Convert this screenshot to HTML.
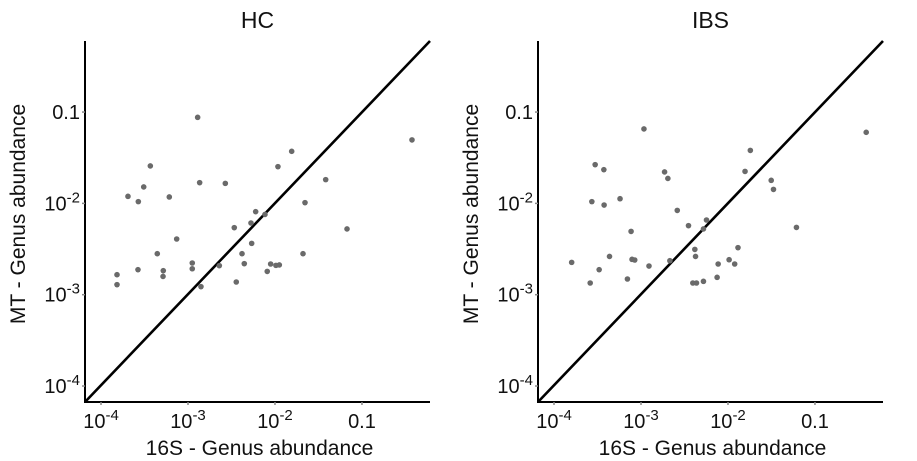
<!DOCTYPE html>
<html><head><meta charset="utf-8">
<style>
html,body{margin:0;padding:0;background:#fff;}
svg{display:block;font-family:"Liberation Sans",Arial,sans-serif;}
</style></head>
<body>
<svg id="chart" width="917" height="461" viewBox="0 0 917 461" xmlns="http://www.w3.org/2000/svg"></svg>
<script>
// log10 values of genus abundance
const panelTitles = ["HC", "IBS"];
const xTickExps = [-4, -3, -2, -1];
const yTickExps = [-4, -3, -2, -1];
const hcX16S = [-2.889,-0.425,-1.808,-3.433,-1.966,-3.509,-2.866,-2.571,-3.690,-3.571,-3.215,-1.417,-1.655,-2.222,-2.115,-2.276,-2.468,-2.268,-3.130,-1.172,-3.353,-2.379,-1.678,-2.951,-2.353,-2.951,-2.640,-2.050,-1.989,-1.950,-2.089,-3.575,-3.284,-3.287,-3.816,-3.816,-2.851,-2.445];
const hcYMT = [-1.058,-1.305,-1.430,-1.590,-1.598,-1.820,-1.773,-1.781,-1.923,-1.981,-1.930,-1.740,-1.992,-2.091,-2.121,-2.215,-2.266,-2.438,-2.390,-2.280,-2.551,-2.551,-2.551,-2.653,-2.660,-2.716,-2.682,-2.664,-2.679,-2.674,-2.745,-2.726,-2.737,-2.800,-2.781,-2.890,-2.912,-2.861];
const ibsX16S = [-2.966,-0.411,-1.743,-3.527,-3.427,-2.729,-2.691,-1.804,-1.503,-1.477,-3.565,-3.424,-3.241,-2.583,-2.454,-2.247,-2.282,-3.114,-1.213,-1.885,-2.381,-2.373,-3.362,-3.103,-3.072,-2.668,-1.987,-1.923,-3.797,-2.908,-2.113,-3.481,-3.156,-3.584,-2.404,-2.362,-2.282,-2.125];
const ibsYMT = [-1.185,-1.222,-1.420,-1.576,-1.631,-1.656,-1.727,-1.650,-1.748,-1.847,-1.981,-2.018,-1.949,-2.077,-2.244,-2.182,-2.280,-2.307,-2.263,-2.485,-2.504,-2.581,-2.581,-2.613,-2.620,-2.628,-2.617,-2.664,-2.646,-2.686,-2.664,-2.726,-2.828,-2.872,-2.872,-2.872,-2.854,-2.810];

const NS = "http://www.w3.org/2000/svg";
const svg = document.getElementById("chart");
function mk(tag, attrs, parent){
  const e = document.createElementNS(NS, tag);
  for (const k in attrs) e.setAttribute(k, attrs[k]);
  (parent||svg).appendChild(e);
  return e;
}
const panels = [
  {left:85, right:430, title:panelTitles[0], xs:hcX16S, ys:hcYMT, key:"hc"},
  {left:538, right:883, title:panelTitles[1], xs:ibsX16S, ys:ibsYMT, key:"ibs"}
];
const plotTop = 41, plotBottom = 402;
const xMin = -4.184, xMax = -0.218, yMin = -4.175, yMax = -0.222;

function tickText(g, exp, x, y, anchor){
  const t = mk("text", {x:x, y:y, "font-size":20, fill:"#111", "text-anchor":anchor}, g);
  if (exp === -1) { t.textContent = "0.1"; }
  else {
    const a = document.createElementNS(NS, "tspan"); a.textContent = "10"; t.appendChild(a);
    const b = document.createElementNS(NS, "tspan"); b.textContent = String(exp);
    b.setAttribute("dy", "-8"); b.setAttribute("font-size", "15"); t.appendChild(b);
  }
  return t;
}

panels.forEach(p => {
  const g = mk("g", {});
  
  
  const sx = v => p.left + (v - xMin) / (xMax - xMin) * (p.right - p.left);
  const sy = v => plotBottom - (v - yMin) / (yMax - yMin) * (plotBottom - plotTop);
  const cx = (p.left + p.right) / 2;

  const title = mk("text", {x:cx, y:28, "font-size":23, "text-anchor":"middle", fill:"#111"}, g);
  title.textContent = p.title;
  
  

  const diag = mk("line", {x1:p.left, y1:plotBottom, x2:p.right, y2:plotTop, stroke:"#000", "stroke-width":2.6}, g);
  
  

  const axes = mk("path", {d:`M${p.left},${plotTop}V${plotBottom}H${p.right}`, fill:"none", stroke:"#000", "stroke-width":2}, g);
  
  

  xTickExps.forEach(e => {
    const x = sx(e);
    const tk = mk("line", {x1:x, y1:plotBottom, x2:x, y2:plotBottom+3, stroke:"#888", "stroke-width":1.5}, g);
    
    
    const t = tickText(g, e, x, 428, "middle");
    
    
  });
  yTickExps.forEach(e => {
    const y = sy(e);
    const tk = mk("line", {x1:p.left-3, y1:y, x2:p.left, y2:y, stroke:"#888", "stroke-width":1.5}, g);
    
    
    const t = tickText(g, e, p.left-5, y+7, "end");
    
    
  });

  const xt = mk("text", {x:cx+2, y:455, "font-size":21, "text-anchor":"middle", fill:"#111"}, g);
  xt.textContent = "16S - Genus abundance";
  
  

  const yx = p.left - 60, yy = 214;
  const yt = mk("text", {x:yx, y:yy, "font-size":21, "text-anchor":"middle", fill:"#111", transform:`rotate(-90 ${yx} ${yy})`}, g);
  yt.textContent = "MT - Genus abundance";
  
  

  p.xs.forEach((v, i) => {
    const c = mk("circle", {cx:sx(v), cy:sy(p.ys[i]), r:2.8, fill:"#6a6a6a"}, g);
    
    
  });
});
</script>
</body></html>
